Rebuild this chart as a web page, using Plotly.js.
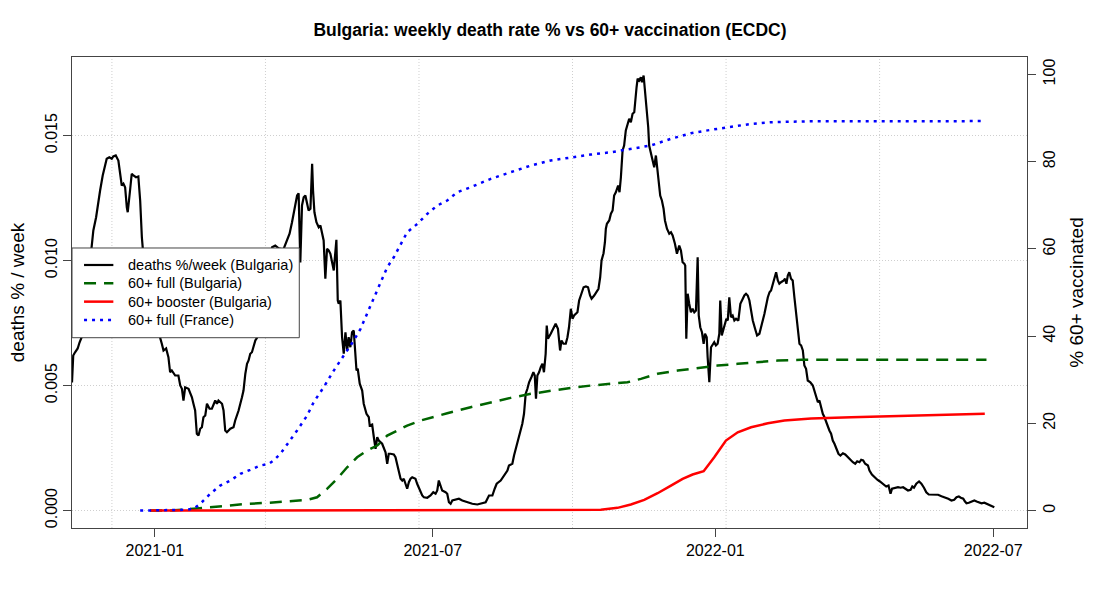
<!DOCTYPE html>
<html>
<head>
<meta charset="utf-8">
<script src="https://cdn.plot.ly/plotly-3.0.1.min.js"></script>
<style>
  body { margin: 0; background: #fff; }
  #plot { width: 1100px; height: 600px; }
</style>
</head>
<body>
<div id="plot"></div>
<script>
// all day offsets count from this date
const baseDate = '2020-11-08'

// deaths % per week (Bulgaria)
const deathDay = [
  0, 0.8, 2, 3.7, 4.9, 6.3, 8.5, 10.4, 12.9, 13.9,
  15.7, 17.2, 18.3, 20, 21.5, 22.6, 24.3, 25.9, 26.9, 28.5,
  30.2, 31.3, 32.4, 33.5, 34.6, 35.7, 36.3, 37.8, 38.9, 40,
  41.7, 43.2, 44.4, 45.5, 46.1, 49.6, 53.5, 57.4, 58.5, 59.6,
  61.3, 62.8, 63.9, 65, 67.2, 69.3, 70.5, 71.6, 72.6, 73.7,
  75.9, 78.1, 79.1, 80.2, 81.3, 82.4, 83.5, 84.6, 85.6, 86.8,
  87.9, 89.6, 91.1, 93.3, 94.4, 95.4, 97.7, 98.7, 99.8, 100.9,
  103.1, 105.2, 106.3, 108.5, 110.7, 111.7, 112.9, 114, 115, 116.1,
  117.2, 119.4, 120.5, 123.9, 127.2, 130.3, 132.4, 134.6, 137.7, 141.7,
  143.3, 144.8, 146.6, 147.6, 148.7, 149.8, 150.9, 152, 153.1, 154.1,
  155.3, 156.4, 157, 157.9, 159.2, 160.7, 161.8, 162.9, 163.9, 165,
  166.1, 167.2, 168.3, 169.4, 170.5, 171.6, 172.2, 173.1, 173.7, 174.8,
  175.9, 177, 178.1, 179.2, 180.2, 181.3, 182.4, 183.5, 184.6, 185.3,
  186.1, 187.4, 189, 190, 191.8, 193.3, 193.9, 195.5, 196.6, 197.7,
  198.8, 199.8, 202, 203.1, 204.2, 205.3, 206.3, 207.4, 209.6, 210.7,
  211.8, 212.9, 214, 215.1, 216.1, 217.2, 218.3, 219.4, 220.5, 221.6,
  223.7, 224.8, 225.9, 227, 228.1, 229.2, 231.4, 233.5, 235.3, 236.8,
  237.9, 238.9, 240.1, 241.1, 243.3, 244.4, 245.5, 246.6, 247.7, 249.8,
  252, 254.2, 257.5, 260.7, 264, 267.2, 269.4, 271.6, 273.8, 275.3,
  276.6, 279.2, 281.3, 283.6, 284.6, 286.8, 287.9, 289, 290.5, 292.2,
  293.3, 294.4, 295.5, 296.6, 297.7, 299.2, 300.5, 301.4, 302.2, 303.1,
  304.2, 305.3, 306.4, 307.4, 308.5, 309.2, 310, 311.8, 313.5, 315,
  316.5, 317.9, 318.8, 320.1, 321.6, 322.7, 323.7, 324.9, 326, 327,
  329.2, 330.3, 331.4, 333.2, 334.7, 336.1, 337.4, 338.4, 340.1, 341.8,
  342.9, 344, 344.9, 346.2, 347.1, 347.7, 348.4, 349.9, 351, 352.1,
  353.1, 354.2, 354.9, 355.7, 356.6, 357.5, 358.6, 359.6, 360.7, 361.8,
  362.9, 364, 365.1, 366.2, 366.8, 367.7, 368.4, 369.4, 370.5, 371.2,
  372.3, 373.1, 374.4, 375.3, 375.9, 377, 378.2, 379.2, 380.3, 381,
  381.8, 383.1, 384.2, 385.3, 386.2, 387.5, 389, 390.1, 391.2, 392.7,
  394, 395.5, 396.6, 397.7, 398.8, 399.4, 400.1, 401, 402, 403.1,
  404.2, 405.3, 406.4, 407.5, 408.2, 409.2, 410.3, 411.4, 412.3, 413.4,
  414, 415.1, 416.2, 417.3, 418.3, 419.4, 420.5, 421.6, 422.2, 423.2,
  424.5, 425.3, 426.2, 427.1, 428.1, 429.2, 430.3, 431.4, 432.5, 434,
  435.3, 436.9, 437.9, 439, 440.1, 441.2, 442.3, 443.4, 444.9, 446.2,
  447.7, 448.8, 451, 453.2, 454.3, 455.3, 456.4, 457.5, 458.6, 459.7,
  460.7, 461.8, 463.6, 464.4, 465.3, 466.2, 467.2, 468.3, 469.4, 470.5,
  471.6, 472.7, 473.8, 474.9, 476, 477, 478.1, 479.2, 480.9, 482.5,
  483.5, 484.7, 485.8, 486.8, 487.9, 489, 490.1, 491.2, 492.3, 493.3,
  494.4, 495.5, 496.6, 497.7, 499.2, 500.5, 502.1, 503.6, 505.3, 507,
  508.6, 510.1, 511.4, 512.9, 514, 515.3, 516.6, 518.4, 519.4, 521,
  522.7, 524.5, 526, 528.2, 530.3, 531.8, 533.1, 534.1, 535.8, 538,
  539.7, 541.3, 542.8, 544.5, 546.2, 547.3, 548.4, 549.9, 551.7, 553.2,
  554.9, 556.4, 558, 559.7, 561.9, 564.1, 566.3, 568.4, 570.7, 572.8,
  574.6, 576.1, 577.6, 578.9, 580.5, 581.5, 582.6, 584.1, 585.9, 587.7,
  589.2, 590.7, 592.4, 594.2, 595.7, 597.2, 599, 600.7
]
const deathRate = [
  0.00512, 0.0062, 0.00633, 0.00648, 0.00672, 0.00693, 0.0080, 0.0092, 0.01049, 0.0112,
  0.01173, 0.0124, 0.0128, 0.0134, 0.01387, 0.01407, 0.01413, 0.01407, 0.01416, 0.0142,
  0.0140, 0.01353, 0.0130, 0.01307, 0.01293, 0.01213, 0.01193, 0.0128, 0.01347, 0.0134,
  0.01333, 0.01336, 0.0124, 0.01093, 0.01049, 0.0092, 0.0080, 0.00691, 0.00667, 0.0064,
  0.00648, 0.00613, 0.00553, 0.0056, 0.0054, 0.0054, 0.0050, 0.00487, 0.0044, 0.00493,
  0.00487, 0.00453, 0.00427, 0.0040, 0.00307, 0.0030, 0.00327, 0.00333, 0.00373, 0.0038,
  0.00427, 0.00407, 0.00407, 0.0044, 0.00427, 0.0044, 0.00427, 0.0040, 0.0032, 0.00313,
  0.00327, 0.00333, 0.0036, 0.0040, 0.00453, 0.0048, 0.00547, 0.00587, 0.0060, 0.00627,
  0.00633, 0.0068, 0.00691, 0.0084, 0.0096, 0.01053, 0.0106, 0.01049, 0.01044, 0.01107,
  0.01153, 0.01207, 0.0126, 0.01269, 0.00992, 0.0122, 0.01253, 0.0126, 0.01227, 0.0120,
  0.01207, 0.01387, 0.0128, 0.01193, 0.01153, 0.01133, 0.0114, 0.01113, 0.0108, 0.00927,
  0.01047, 0.0104, 0.01027, 0.00993, 0.0096, 0.0104, 0.01083, 0.0084, 0.00827, 0.0084,
  0.00693, 0.00627, 0.00713, 0.0064, 0.00693, 0.00653, 0.00713, 0.0072, 0.0064, 0.0056,
  0.00567, 0.00507, 0.0048, 0.00427, 0.00387, 0.00373, 0.0034, 0.00344, 0.00293, 0.00247,
  0.00293, 0.0028, 0.00267, 0.00253, 0.00233, 0.00187, 0.00227, 0.00227, 0.00224, 0.00213,
  0.00187, 0.0016, 0.00127, 0.0012, 0.00127, 0.00107, 0.00087, 0.00113, 0.00127, 0.00133,
  0.00127, 0.00107, 0.00093, 0.0008, 0.0006, 0.00053, 0.00051, 0.0006, 0.00073, 0.00067,
  0.0008, 0.0012, 0.0010, 0.0008, 0.00073, 0.00067, 0.00033, 0.00027, 0.0004, 0.00043,
  0.00047, 0.0004, 0.00033, 0.00027, 0.00024, 0.00029, 0.00033, 0.0006, 0.0006, 0.00087,
  0.00107, 0.0012, 0.0014, 0.0016, 0.0018, 0.00187, 0.0022, 0.00247, 0.00287, 0.00327,
  0.00347, 0.00387, 0.00467, 0.00487, 0.00513, 0.00533, 0.00553, 0.0054, 0.00447, 0.0054,
  0.00553, 0.00573, 0.00587, 0.00553, 0.00627, 0.0074, 0.00687, 0.00707, 0.00727, 0.00747,
  0.00727, 0.0064, 0.0068, 0.00667, 0.00667, 0.00693, 0.00733, 0.00807, 0.00767, 0.0078,
  0.00793, 0.0084, 0.0086, 0.00893, 0.00896, 0.00893, 0.0086, 0.00847, 0.0086, 0.0088,
  0.00887, 0.00933, 0.0100, 0.01029, 0.01073, 0.01127, 0.01147, 0.0116, 0.01187, 0.0120,
  0.0126, 0.01273, 0.01287, 0.0130, 0.01273, 0.01333, 0.0144, 0.0146, 0.0152, 0.01547,
  0.01567, 0.01553, 0.01587, 0.01593, 0.01647, 0.01693, 0.01727, 0.0172, 0.01733, 0.01713,
  0.0174, 0.01687, 0.01613, 0.01533, 0.0146, 0.01427, 0.0140, 0.01373, 0.0142, 0.01373,
  0.01327, 0.0126, 0.0124, 0.01207, 0.0116, 0.01127, 0.01107, 0.01113, 0.0110, 0.01067,
  0.01027, 0.0106, 0.0104, 0.00993, 0.00987, 0.0098, 0.00687, 0.00867, 0.00827, 0.00793,
  0.00807, 0.00793, 0.0080, 0.01013, 0.0078, 0.00733, 0.00713, 0.00667, 0.00707, 0.00693,
  0.00613, 0.00513, 0.00653, 0.00667, 0.00673, 0.0066, 0.00667, 0.00707, 0.0084, 0.0070,
  0.00727, 0.00747, 0.00767, 0.0076, 0.00853, 0.00773, 0.0078, 0.0076, 0.00767, 0.0076,
  0.00827, 0.00847, 0.0086, 0.00867, 0.0086, 0.0084, 0.0080, 0.0076, 0.00727, 0.0070,
  0.00707, 0.00733, 0.00787, 0.00853, 0.00873, 0.0088, 0.00907, 0.00927, 0.00953, 0.0092,
  0.00907, 0.00913, 0.0092, 0.00927, 0.00907, 0.0094, 0.00953, 0.00927, 0.0092, 0.00853,
  0.00787, 0.0072, 0.00667, 0.0066, 0.0064, 0.0058, 0.00567, 0.0052, 0.00513, 0.0050,
  0.0048, 0.00453, 0.00433, 0.0044, 0.00407, 0.00387, 0.00373, 0.00353, 0.00333, 0.0032,
  0.00307, 0.0028, 0.00267, 0.00247, 0.00227, 0.0022, 0.00229, 0.00224, 0.00213, 0.0020,
  0.00193, 0.00187, 0.00197, 0.00193, 0.00203, 0.0020, 0.00187, 0.0018, 0.0016, 0.00144,
  0.00133, 0.00123, 0.00117, 0.00107, 0.00096, 0.0010, 0.00067, 0.00087, 0.00091, 0.00093,
  0.00091, 0.00093, 0.00087, 0.0008, 0.00083, 0.00096, 0.00091, 0.00107, 0.00116, 0.00107,
  0.00091, 0.00073, 0.00064, 0.00063, 0.00064, 0.00063, 0.00057, 0.00053, 0.00047, 0.0004,
  0.00043, 0.00053, 0.00056, 0.00051, 0.00047, 0.00037, 0.00029, 0.00031, 0.00037, 0.0004,
  0.00036, 0.00033, 0.00029, 0.00031, 0.00027, 0.00024, 0.00019, 0.00013
]

// 60+ fully vaccinated, Bulgaria (%)
const bgFullDay = [50.9, 63.9, 79.1, 90, 100.9, 114, 127, 140.1, 153.1, 159.6,
  166.1, 172.7, 179.2, 185.7, 192.2, 198.8, 205.3, 211.8, 218.3, 227,
  235.7, 244.4, 259.6, 272.7, 285.7, 298.8, 311.8, 324.9, 337.9, 350.9,
  361.8, 370.5, 381.4, 394.5, 407.5, 420.5, 433.6, 446.6, 459.7, 474.9, 507.5, 595.6]
const bgFull = [0, 0, 0.39, 0.76, 1.15, 1.54, 1.77, 2.13, 2.45, 3.05,
  4.98, 7.27, 9.93, 12.22, 13.76, 14.9, 17.2, 18.34, 19.49, 20.64,
  21.55, 22.31, 23.69, 24.83, 25.84, 26.76, 27.52, 28.14, 28.66, 29.05,
  29.42, 30.2, 31.35, 32.1, 32.72, 33.25, 33.64, 34.01, 34.4, 34.56, 34.56, 34.56]

// 60+ booster, Bulgaria (%)
const bgBoostDay = [50.9, 324.9, 344.4, 355.3, 364, 372.7, 381.4, 390.1, 397.7, 404.2,
  411.4, 418.3, 425.9, 433.6, 442.3, 453.2, 464, 481.4, 507.5, 594.5]
const bgBoost = [0, 0, 0.16, 0.62, 1.38, 2.45, 3.97, 5.73, 7.27, 8.26,
  9.01, 12.22, 16.05, 17.95, 19.1, 20.02, 20.64, 21.1, 21.39, 22.17]

// 60+ fully vaccinated, France (%)
const frFullDay = [44.4, 53, 63.9, 72.6, 79.1, 83.5, 90, 96.5, 103.1, 109.6,
  116.1, 122.6, 128.1, 131.3, 135.7, 142.2, 146.6, 153.1, 157.4, 163.9,
  170.5, 177, 183.5, 187.9, 192.2, 196.5, 200.9, 205.3, 209.6, 214,
  218.3, 224.9, 231.4, 237.9, 244.4, 250.9, 259.6, 272.7, 285.7, 298.8,
  311.8, 324.9, 337.9, 350.9, 364, 377, 390.1, 403.1, 416.2, 429.2,
  442.3, 455.3, 468.4, 481.4, 507.5, 592.3]
const frFull = [0, 0, 0, 0.16, 0.39, 1.54, 3.83, 5.73, 6.88, 8.42,
  9.33, 10.32, 10.71, 11.47, 13, 16.05, 18.34, 21.78, 24.83, 28.27,
  32.1, 35.54, 38.98, 41.66, 45.1, 48.54, 51.98, 55.79, 58.08, 61.16,
  63.82, 65.74, 68.03, 69.94, 71.09, 72.99, 74.13, 76.06, 77.57, 79.11,
  80.26, 81.01, 81.63, 82.16, 82.94, 83.7, 85.24, 86.52, 87.3, 88.05,
  88.67, 89.04, 89.2, 89.27, 89.27, 89.3]

const xTickVals = ['2021-01-01', '2021-07-01', '2022-01-01', '2022-07-01']
const xTickText = ['2021-01', '2021-07', '2022-01', '2022-07']
const leftTicks = [0, 0.005, 0.010, 0.015]
const leftTickText = ['0.000', '0.005', '0.010', '0.015']
const rightTicks = [0, 20, 40, 60, 80, 100]

function toDate(d)
{
    var t = Date.parse(baseDate + 'T00:00:00Z') + d * 86400000
    return new Date(t).toISOString().slice(0, 16).replace('T', ' ')
}

var data = [
    {
        x: deathDay.map(toDate), y: deathRate, yaxis: 'y',
        type: 'scatter', mode: 'lines', name: 'deaths %/week (Bulgaria)',
        line: {color: 'black', width: 2.2}
    },
    {
        x: bgFullDay.map(toDate), y: bgFull, yaxis: 'y2',
        type: 'scatter', mode: 'lines', name: '60+ full (Bulgaria)',
        line: {color: '#006400', width: 2.5, dash: '12px,8px'}
    },
    {
        x: bgBoostDay.map(toDate), y: bgBoost, yaxis: 'y2',
        type: 'scatter', mode: 'lines', name: '60+ booster (Bulgaria)',
        line: {color: 'red', width: 2.5}
    },
    {
        x: frFullDay.map(toDate), y: frFull, yaxis: 'y2',
        type: 'scatter', mode: 'lines', name: '60+ full (France)',
        line: {color: 'blue', width: 2.5, dash: '3px,5px'}
    }
]

var axisCol = '#444'
var gridCol = '#cfcfcf'
var shapes = []
var annotations = []

// R's grid() puts the vertical lines every 100 days, not on the month ticks
var g0 = Date.parse('2020-12-04T00:00:00Z')
for (var k = 0; k < 6; k++) {
    var gd = new Date(g0 + k * 100 * 86400000).toISOString().slice(0, 10)
    shapes.push({
        type: 'line', xref: 'x', yref: 'paper', x0: gd, x1: gd, y0: 0, y1: 1,
        line: {color: gridCol, width: 1, dash: '1px,2px'}, layer: 'below'
    })
}

// legend box drawn by hand, like R's legend(): short keys, tight rows
var legTop = 0.5945, legBottom = 0.404, legRight = 0.238
var rowY0 = 0.5584, rowStep = 0.0389
shapes.push({
    type: 'rect', xref: 'paper', yref: 'paper',
    x0: 0, x1: legRight, y0: legBottom, y1: legTop,
    fillcolor: 'white', line: {color: axisCol, width: 1}, layer: 'above'
})
data.forEach(function (tr, i) {
    var yy = rowY0 - i * rowStep
    shapes.push({
        type: 'line', xref: 'paper', yref: 'paper',
        x0: 0.0126, x1: 0.0433, y0: yy, y1: yy,
        line: {color: tr.line.color, width: tr.line.width, dash: tr.line.dash || 'solid'},
        layer: 'above'
    })
    annotations.push({
        xref: 'paper', yref: 'paper', x: 0.0565, y: yy,
        xanchor: 'left', yanchor: 'middle', showarrow: false,
        text: tr.name, font: {size: 14.5}
    })
})

var layout = {
    width: 1100, height: 600,
    margin: {l: 72, r: 73, t: 57, b: 72},
    paper_bgcolor: 'white', plot_bgcolor: 'white',
    font: {family: 'Liberation Sans, Arial, sans-serif', size: 16, color: 'black'},
    title: {
        text: '<b>Bulgaria: weekly death rate % vs 60+ vaccination (ECDC)</b>',
        font: {size: 17.5}, x: 0.5, xanchor: 'center', y: 0.95, yanchor: 'middle'
    },
    showlegend: false,
    xaxis: {
        type: 'date', range: ['2020-11-08', '2022-07-23'],
        tickvals: xTickVals, ticktext: xTickText,
        ticks: 'outside', ticklen: 8, tickcolor: axisCol,
        showline: true, linecolor: axisCol, mirror: true,
        showgrid: false, zeroline: false
    },
    yaxis: {
        range: [-0.0007, 0.01814],
        tickvals: leftTicks, ticktext: leftTickText, tickangle: -90,
        ticks: 'outside', ticklen: 8, tickcolor: axisCol,
        showline: true, linecolor: axisCol, mirror: true,
        showgrid: true, gridcolor: gridCol, griddash: '1px,2px', gridwidth: 1,
        zeroline: false,
        title: {text: 'deaths % / week', standoff: 12}
    },
    yaxis2: {
        overlaying: 'y', side: 'right', range: [-4, 104],
        tickvals: rightTicks, tickangle: -90,
        ticks: 'outside', ticklen: 8, tickcolor: axisCol,
        showline: true, linecolor: axisCol,
        showgrid: false, zeroline: false,
        title: {text: '% 60+ vaccinated', standoff: 12}
    },
    shapes: shapes,
    annotations: annotations
}

Plotly.newPlot('plot', data, layout, {staticPlot: true})
</script>
</body>
</html>
